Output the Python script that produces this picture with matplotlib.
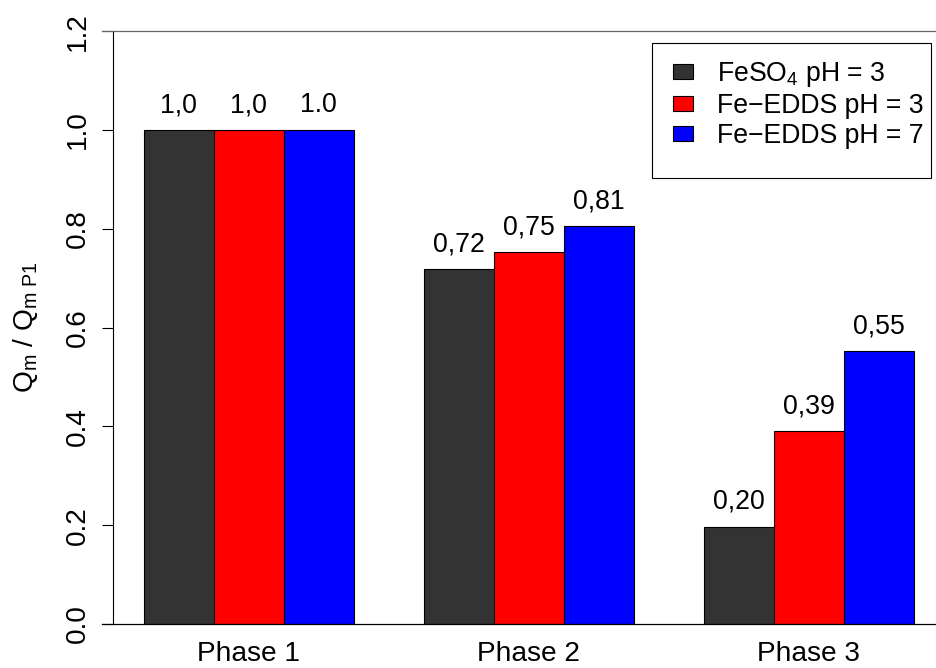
import matplotlib
matplotlib.use("Agg")
import matplotlib.pyplot as plt
from matplotlib.patches import Rectangle, Patch

plt.rcParams['font.family'] = ['Liberation Sans', 'DejaVu Sans']
plt.rcParams['mathtext.fontset'] = 'custom'
plt.rcParams['mathtext.rm'] = 'Liberation Sans'
plt.rcParams['mathtext.it'] = 'Liberation Sans:italic'
plt.rcParams['mathtext.bf'] = 'Liberation Sans:bold'

# ---- data ----
phases = ["Phase 1", "Phase 2", "Phase 3"]
series_names = [r"$\mathregular{FeSO_4}$ pH = 3", "Fe\u2212EDDS pH = 3", "Fe\u2212EDDS pH = 7"]
feso4_ph3 = [1.0, 0.719, 0.197]
feedds_ph3 = [1.0, 0.753, 0.391]
feedds_ph7 = [1.0, 0.805, 0.553]
labels_feso4_ph3 = ["1,0", "0,72", "0,20"]
labels_feedds_ph3 = ["1,0", "0,75", "0,39"]
labels_feedds_ph7 = ["1.0", "0,81", "0,55"]
yticks = [0.0, 0.2, 0.4, 0.6, 0.8, 1.0, 1.2]
colors = ["#333333", "#FF0000", "#0000FF"]

series = [feso4_ph3, feedds_ph3, feedds_ph7]
series_labels = [labels_feso4_ph3, labels_feedds_ph3, labels_feedds_ph7]

W, H = 936, 668
fig = plt.figure(figsize=(W / 100, H / 100), dpi=100)
ax_left, ax_right, ax_top, ax_bot = 113, 944.8, 31.2, 624
ax = fig.add_axes([ax_left / W, (H - ax_bot) / H, (ax_right - ax_left) / W, (ax_bot - ax_top) / H])

FS = 19.2
FS_AX = 20.2
n_series = len(series)
group_step = n_series + 1
for s, (vals, labs) in enumerate(zip(series, series_labels)):
    xs = [1 + group_step * g + s + 0.5 for g in range(len(phases))]
    ax.bar(xs, vals, width=1.0, color=colors[s], edgecolor="black", linewidth=0.8, zorder=2)
    for x, v, t in zip(xs, vals, labs):
        ax.text(x, v + 0.05, t, ha="center", va="center", fontsize=FS, color="black")

ax.set_xlim(0.56, 12.44)
ax.set_ylim(0, 1.2)

centers = [1 + group_step * g + n_series / 2 for g in range(len(phases))]
ax.set_xticks(centers)
ax.set_xticklabels(phases, fontsize=FS_AX)
ax.tick_params(axis="x", length=0, pad=12.5)

ax.set_yticks(yticks)
ax.set_yticklabels([f"{t:.1f}" for t in yticks], fontsize=FS_AX, rotation=90, va="center")
ax.tick_params(axis="y", length=8, width=0.8, pad=8.0, direction="out")

for side in ["top", "right", "bottom"]:
    ax.spines[side].set_visible(False)
ax.spines["left"].set_linewidth(0.8)

# horizontal lines at 0 and 1.2 extending to tick area
ax.plot([0.4, 12.44], [0, 0], color="black", linewidth=0.9, clip_on=False, zorder=3)
ax.plot([0.4, 12.44], [1.2, 1.2], color="#666666", linewidth=0.9, clip_on=False, zorder=3)

ax.set_ylabel(r"$\mathregular{Q_m\ /\ Q_{m\ P1}}$", fontsize=FS_AX, va="center")
ax.yaxis.set_label_coords((26 - ax_left) / (ax_right - ax_left), 0.5)

# legend
handles = [Patch(facecolor=c, edgecolor="black", linewidth=0.8) for c in colors]
leg = fig.legend(handles, series_names, loc="upper left",
                 bbox_to_anchor=(673 / W, 1 - 60 / H), frameon=False,
                 fontsize=FS, handlelength=0.75, handleheight=0.52,
                 handletextpad=0.9, labelspacing=0.15, borderpad=0, borderaxespad=0)
fig.add_artist(Rectangle((652 / W, 1 - 178 / H), (931 - 652) / W, (178 - 43) / H,
                         transform=fig.transFigure, fill=False, edgecolor="black",
                         linewidth=0.8))

fig.savefig("out.png", dpi=100)
